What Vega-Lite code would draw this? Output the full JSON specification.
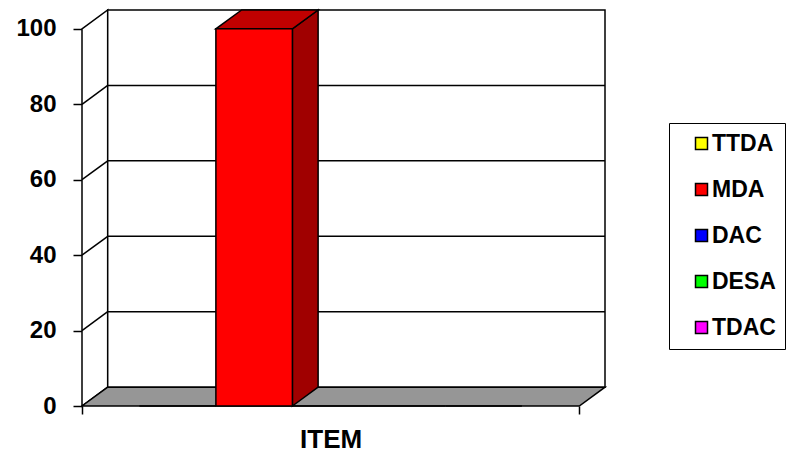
{
  "$schema": "https://vega.github.io/schema/vega-lite/v6.json",
  "width": 523,
  "height": 396,
  "autosize": {"type": "none"},
  "padding": {"left": 82, "top": 10, "right": 194, "bottom": 46},
  "background": "white",
  "config": {
    "view": {"stroke": null},
    "font": "Liberation Sans",
    "axisY": {
      "title": null, "grid": false, "domain": false,
      "tickSize": 9, "tickColor": "black", "tickWidth": 1.5,
      "labelFont": "Liberation Sans", "labelFontWeight": "bold", "labelFontSize": 24,
      "labelColor": "black", "labelPadding": 17
    }
  },
  "datasets": {
    "series": [
      {"category": "ITEM", "series": "TTDA", "value": 0},
      {"category": "ITEM", "series": "MDA", "value": 100},
      {"category": "ITEM", "series": "DAC", "value": 0},
      {"category": "ITEM", "series": "DESA", "value": 0},
      {"category": "ITEM", "series": "TDAC", "value": 0}
    ],
    "left_wall": [{"x": 0, "lo": 0, "hi": 100}, {"x": 5.17, "lo": 5, "hi": 105}],
    "back_wall": [{"x": 5.17, "x2": 105.17, "lo": 5, "hi": 105}],
    "back_grid": [
      {"level": 20, "x": 5.17, "x2": 105.17, "y": 25},
      {"level": 40, "x": 5.17, "x2": 105.17, "y": 45},
      {"level": 60, "x": 5.17, "x2": 105.17, "y": 65},
      {"level": 80, "x": 5.17, "x2": 105.17, "y": 85}
    ],
    "left_grid": [
      {"level": 20, "x": 0, "y": 20}, {"level": 20, "x": 5.17, "y": 25},
      {"level": 40, "x": 0, "y": 40}, {"level": 40, "x": 5.17, "y": 45},
      {"level": 60, "x": 0, "y": 60}, {"level": 60, "x": 5.17, "y": 65},
      {"level": 80, "x": 0, "y": 80}, {"level": 80, "x": 5.17, "y": 85}
    ],
    "floor": [{"y": 0, "x": 0, "x2": 100}, {"y": 5, "x": 5.17, "x2": 105.17}],
    "bar_top": [{"y": 100, "x": 26.92, "x2": 42.31}, {"y": 105, "x": 32.09, "x2": 47.48}],
    "bar_side": [{"x": 42.31, "lo": 0, "hi": 100}, {"x": 47.48, "lo": 5, "hi": 105}]
  },
  "resolve": {"scale": {"x": "independent"}, "axis": {"x": "independent"}},
  "layer": [
    {
      "data": {"name": "left_wall"},
      "mark": {"type": "area", "fill": "white", "stroke": "black", "strokeWidth": 1.5},
      "encoding": {
        "x": {"field": "x", "type": "quantitative", "scale": {"domain": [0, 105.17], "nice": false, "zero": false}, "axis": null},
        "y": {"field": "lo", "type": "quantitative", "scale": {"domain": [0, 105], "nice": false}, "axis": {"values": [0, 20, 40, 60, 80, 100], "title": null}},
        "y2": {"field": "hi"}
      }
    },
    {
      "data": {"name": "back_wall"},
      "mark": {"type": "rect", "fill": "white", "stroke": "black", "strokeWidth": 1.5},
      "encoding": {
        "x": {"field": "x", "type": "quantitative", "scale": {"domain": [0, 105.17], "nice": false, "zero": false}, "axis": null},
        "x2": {"field": "x2"},
        "y": {"field": "lo", "type": "quantitative", "scale": {"domain": [0, 105], "nice": false}, "axis": {"values": [0, 20, 40, 60, 80, 100], "title": null}},
        "y2": {"field": "hi"}
      }
    },
    {
      "data": {"name": "back_grid"},
      "mark": {"type": "rule", "stroke": "black", "strokeWidth": 1.5},
      "encoding": {
        "x": {"field": "x", "type": "quantitative", "scale": {"domain": [0, 105.17], "nice": false, "zero": false}, "axis": null},
        "x2": {"field": "x2"},
        "y": {"field": "y", "type": "quantitative", "scale": {"domain": [0, 105], "nice": false}, "axis": {"values": [0, 20, 40, 60, 80, 100], "title": null}}
      }
    },
    {
      "data": {"name": "left_grid"},
      "mark": {"type": "line", "stroke": "black", "strokeWidth": 1.5},
      "encoding": {
        "x": {"field": "x", "type": "quantitative", "scale": {"domain": [0, 105.17], "nice": false, "zero": false}, "axis": null},
        "y": {"field": "y", "type": "quantitative", "scale": {"domain": [0, 105], "nice": false}, "axis": {"values": [0, 20, 40, 60, 80, 100], "title": null}},
        "detail": {"field": "level", "type": "nominal"}
      }
    },
    {
      "data": {"name": "floor"},
      "mark": {"type": "area", "orient": "horizontal", "fill": "#969696", "stroke": "black", "strokeWidth": 1.5, "opacity": 1},
      "encoding": {
        "y": {"field": "y", "type": "quantitative", "scale": {"domain": [0, 105], "nice": false}, "axis": {"values": [0, 20, 40, 60, 80, 100], "title": null}},
        "x": {"field": "x", "type": "quantitative", "scale": {"domain": [0, 105.17], "nice": false, "zero": false}, "axis": null},
        "x2": {"field": "x2"}
      }
    },
    {
      "data": {"name": "bar_side"},
      "mark": {"type": "area", "fill": "#a00000", "stroke": "black", "strokeWidth": 1.5, "opacity": 1},
      "encoding": {
        "x": {"field": "x", "type": "quantitative", "scale": {"domain": [0, 105.17], "nice": false, "zero": false}, "axis": null},
        "y": {"field": "lo", "type": "quantitative", "scale": {"domain": [0, 105], "nice": false}, "axis": {"values": [0, 20, 40, 60, 80, 100], "title": null}},
        "y2": {"field": "hi"}
      }
    },
    {
      "data": {"name": "bar_top"},
      "mark": {"type": "area", "orient": "horizontal", "fill": "#c00000", "stroke": "black", "strokeWidth": 1.5, "opacity": 1},
      "encoding": {
        "y": {"field": "y", "type": "quantitative", "scale": {"domain": [0, 105], "nice": false}, "axis": {"values": [0, 20, 40, 60, 80, 100], "title": null}},
        "x": {"field": "x", "type": "quantitative", "scale": {"domain": [0, 105.17], "nice": false, "zero": false}, "axis": null},
        "x2": {"field": "x2"}
      }
    },
    {
      "data": {"name": "series"},
      "mark": {"type": "bar", "stroke": "black", "strokeWidth": 1.5, "opacity": 1},
      "encoding": {
        "x": {
          "field": "category", "type": "nominal",
          "scale": {"range": [0, 497.29], "paddingInner": 0, "paddingOuter": 0},
          "axis": {
            "title": null, "domain": false, "tickBand": "extent", "ticks": true,
            "tickSize": 8, "tickColor": "black", "tickWidth": 1.5,
            "labelAngle": 0, "labelFont": "Liberation Sans", "labelFontWeight": "bold",
            "labelFontSize": 26, "labelColor": "black", "labelPadding": 12, "grid": false
          }
        },
        "xOffset": {
          "field": "series", "type": "nominal",
          "sort": ["TTDA", "MDA", "DAC", "DESA", "TDAC"],
          "scale": {"paddingOuter": 0.75, "paddingInner": 0}
        },
        "y": {
          "field": "value", "type": "quantitative",
          "scale": {"domain": [0, 105], "nice": false},
          "axis": {"values": [0, 20, 40, 60, 80, 100], "title": null}
        },
        "color": {
          "field": "series", "type": "nominal",
          "sort": ["TTDA", "MDA", "DAC", "DESA", "TDAC"],
          "scale": {"domain": ["TTDA", "MDA", "DAC", "DESA", "TDAC"], "range": ["#ffff00", "#ff0000", "#0000ff", "#00ff00", "#ff00ff"]},
          "legend": {
            "orient": "none", "legendX": 587, "legendY": 113, "title": null,
            "strokeColor": "black", "fillColor": "white", "padding": 9,
            "symbolType": "square", "symbolSize": 144, "symbolStrokeColor": "black",
            "symbolStrokeWidth": 1.5, "symbolOffset": 12,
            "labelFont": "Liberation Sans", "labelFontWeight": "bold", "labelFontSize": 23,
            "labelColor": "black", "rowPadding": 22, "labelOffset": -1
          }
        }
      }
    }
  ]
}
